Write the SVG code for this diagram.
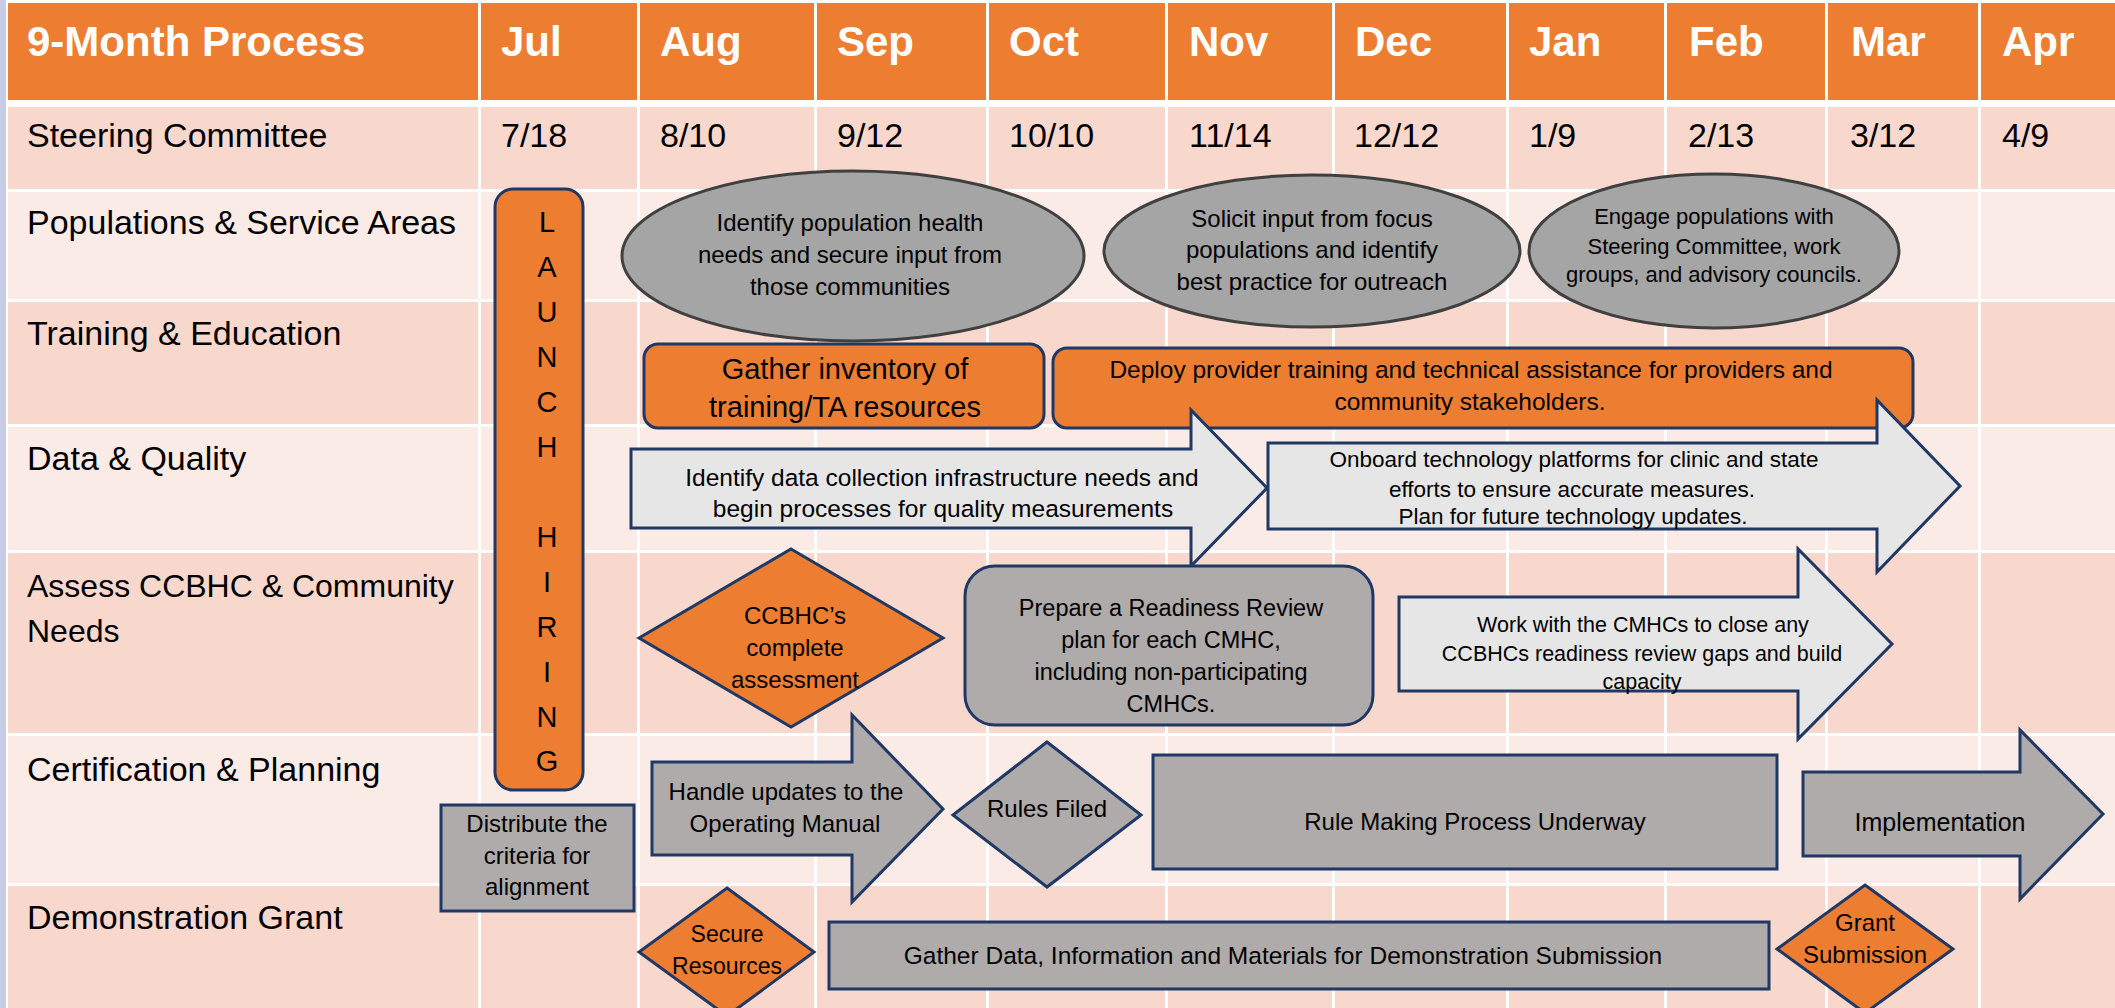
<svg xmlns="http://www.w3.org/2000/svg" width="2115" height="1008" viewBox="0 0 2115 1008">
<style>
  text { font-family: "Liberation Sans", Arial, sans-serif; fill: #000; }
  .hd { font-size: 42px; font-weight: bold; fill: #fff; }
  .lbl { font-size: 34px; }
  .t24 { font-size: 24px; text-anchor: middle; }
  .ltr { font-size: 29px; text-anchor: middle; }
  .rowD { fill: #F8D8CD; }
  .rowL { fill: #FBEBE7; }
  .vl { fill: #fff; }
  .ell { fill: #A5A5A5; stroke: #404040; stroke-width: 3; }
  .org { fill: #ED7D31; stroke: #1F3864; stroke-width: 3; }
  .gry { fill: #AFABAB; stroke: #1F3864; stroke-width: 3; }
  .lgt { fill: #E7E6E6; stroke: #1F3864; stroke-width: 3; }
</style>

<g id="table">
  <rect x="0" y="0" width="2115" height="1008" fill="#fff"/>
  <rect x="0" y="0" width="6" height="1008" fill="#C7CCE4"/>
  <rect x="8" y="3" width="2107" height="97" fill="#ED7D31"/>
  <rect class="rowD" x="8" y="107" width="2107" height="82"/>
  <rect class="rowL" x="8" y="192" width="2107" height="107"/>
  <rect class="rowD" x="8" y="302" width="2107" height="122"/>
  <rect class="rowL" x="8" y="427" width="2107" height="123"/>
  <rect class="rowD" x="8" y="553" width="2107" height="180"/>
  <rect class="rowL" x="8" y="736" width="2107" height="147"/>
  <rect class="rowD" x="8" y="886" width="2107" height="122"/>
  <rect class="vl" x="478" y="0" width="3" height="1008"/>
  <rect class="vl" x="637" y="0" width="3" height="1008"/>
  <rect class="vl" x="814" y="0" width="3" height="1008"/>
  <rect class="vl" x="986" y="0" width="3" height="1008"/>
  <rect class="vl" x="1165" y="0" width="3" height="1008"/>
  <rect class="vl" x="1332" y="0" width="3" height="1008"/>
  <rect class="vl" x="1506" y="0" width="3" height="1008"/>
  <rect class="vl" x="1664" y="0" width="3" height="1008"/>
  <rect class="vl" x="1825" y="0" width="3" height="1008"/>
  <rect class="vl" x="1978" y="0" width="3" height="1008"/>

  <text class="hd" x="27" y="56">9-Month Process</text>
  <text class="hd" x="501" y="56">Jul</text>
  <text class="hd" x="660" y="56">Aug</text>
  <text class="hd" x="837" y="56">Sep</text>
  <text class="hd" x="1009" y="56">Oct</text>
  <text class="hd" x="1189" y="56">Nov</text>
  <text class="hd" x="1355" y="56">Dec</text>
  <text class="hd" x="1529" y="56">Jan</text>
  <text class="hd" x="1689" y="56">Feb</text>
  <text class="hd" x="1851" y="56">Mar</text>
  <text class="hd" x="2002" y="56">Apr</text>

  <text class="lbl" x="27" y="147">Steering Committee</text>
  <text class="lbl" x="501" y="147">7/18</text>
  <text class="lbl" x="660" y="147">8/10</text>
  <text class="lbl" x="837" y="147">9/12</text>
  <text class="lbl" x="1009" y="147">10/10</text>
  <text class="lbl" x="1189" y="147">11/14</text>
  <text class="lbl" x="1354" y="147">12/12</text>
  <text class="lbl" x="1529" y="147">1/9</text>
  <text class="lbl" x="1688" y="147">2/13</text>
  <text class="lbl" x="1850" y="147">3/12</text>
  <text class="lbl" x="2002" y="147">4/9</text>

  <text class="lbl" x="27" y="234">Populations &amp; Service Areas</text>
  <text class="lbl" x="27" y="345">Training &amp; Education</text>
  <text class="lbl" x="27" y="470">Data &amp; Quality</text>
  <text class="lbl" style="font-size:32px" x="27" y="597">Assess CCBHC &amp; Community</text>
  <text class="lbl" style="font-size:32px" x="27" y="642">Needs</text>
  <text class="lbl" x="27" y="781">Certification &amp; Planning</text>
  <text class="lbl" x="27" y="929">Demonstration Grant</text>
</g>

<g id="connectors"/>

<g id="launch-hiring">
  <rect class="org" x="495" y="189" width="88" height="601" rx="18"/>
  <text class="ltr" x="547" y="232">L</text>
  <text class="ltr" x="547" y="277">A</text>
  <text class="ltr" x="547" y="322">U</text>
  <text class="ltr" x="547" y="367">N</text>
  <text class="ltr" x="547" y="412">C</text>
  <text class="ltr" x="547" y="457">H</text>
  <text class="ltr" x="547" y="547">H</text>
  <text class="ltr" x="547" y="592">I</text>
  <text class="ltr" x="547" y="637">R</text>
  <text class="ltr" x="547" y="682">I</text>
  <text class="ltr" x="547" y="727">N</text>
  <text class="ltr" x="547" y="771">G</text>
</g>

<g id="identify-population">
  <ellipse class="ell" cx="853" cy="256" rx="231" ry="85"/>
  <text class="t24" x="850" y="231">Identify population health</text>
  <text class="t24" x="850" y="263">needs and secure input from</text>
  <text class="t24" x="850" y="295">those communities</text>
</g>

<g id="solicit-input">
  <ellipse class="ell" cx="1312" cy="251" rx="208" ry="76"/>
  <text class="t24" x="1312" y="227">Solicit input from focus</text>
  <text class="t24" x="1312" y="258">populations and identify</text>
  <text class="t24" x="1312" y="290">best practice for outreach</text>
</g>

<g id="engage-populations">
  <ellipse class="ell" cx="1714" cy="251" rx="185" ry="77"/>
  <text class="t24" style="font-size:22px" x="1714" y="224">Engage populations with</text>
  <text class="t24" style="font-size:22px" x="1714" y="254">Steering Committee, work</text>
  <text class="t24" style="font-size:22px" x="1714" y="282">groups, and advisory councils.</text>
</g>

<g id="gather-inventory">
  <rect class="org" x="644" y="344" width="400" height="84" rx="14"/>
  <text class="t24" style="font-size:29px" x="845" y="379">Gather inventory of</text>
  <text class="t24" style="font-size:29px" x="845" y="417">training/TA resources</text>
</g>

<g id="deploy-training">
  <rect class="org" x="1053" y="348" width="860" height="80" rx="14"/>
  <text class="t24" style="font-size:24.5px" x="1471" y="378">Deploy provider training and technical assistance for providers and</text>
  <text class="t24" style="font-size:24.5px" x="1470" y="410">community stakeholders.</text>
</g>

<g id="identify-data">
  <polygon class="lgt" points="631,449 1191,449 1191,410 1267,488 1191,566 1191,528 631,528"/>
  <text class="t24" style="font-size:24.5px" x="942" y="486">Identify data collection infrastructure needs and</text>
  <text class="t24" style="font-size:24.5px" x="943" y="517">begin processes for quality measurements</text>
</g>

<g id="onboard-technology">
  <polygon class="lgt" points="1268,443 1877,443 1877,400 1960,486 1877,572 1877,529 1268,529"/>
  <text class="t24" style="font-size:22.5px" x="1574" y="467">Onboard technology platforms for clinic and state</text>
  <text class="t24" style="font-size:22.5px" x="1572" y="497">efforts to ensure accurate measures.</text>
  <text class="t24" style="font-size:22.5px" x="1573" y="524">Plan for future technology updates.</text>
</g>

<g id="ccbhc-assessment">
  <polygon class="org" points="791,549 943,638 791,727 639,638"/>
  <text class="t24" x="795" y="624">CCBHC’s</text>
  <text class="t24" x="795" y="656">complete</text>
  <text class="t24" x="795" y="688">assessment</text>
</g>

<g id="readiness-review">
  <rect class="gry" x="965" y="566" width="408" height="159" rx="30"/>
  <text class="t24" style="font-size:23.5px" x="1171" y="616">Prepare a Readiness Review</text>
  <text class="t24" style="font-size:23.5px" x="1171" y="648">plan for each CMHC,</text>
  <text class="t24" style="font-size:23.5px" x="1171" y="680">including non-participating</text>
  <text class="t24" style="font-size:23.5px" x="1171" y="712">CMHCs.</text>
</g>

<g id="work-with-cmhcs">
  <polygon class="lgt" points="1399,597 1798,597 1798,549 1892,644 1798,739 1798,691 1399,691"/>
  <text class="t24" style="font-size:21.5px" x="1643" y="632">Work with the CMHCs to close any</text>
  <text class="t24" style="font-size:21.5px" x="1642" y="661">CCBHCs readiness review gaps and build</text>
  <text class="t24" style="font-size:21.5px" x="1642" y="689">capacity</text>
</g>

<g id="distribute-criteria">
  <rect class="gry" x="441" y="805" width="193" height="106"/>
  <text class="t24" x="537" y="832">Distribute the</text>
  <text class="t24" x="537" y="864">criteria for</text>
  <text class="t24" x="537" y="895">alignment</text>
</g>

<g id="handle-updates">
  <polygon class="gry" points="652,762 852,762 852,715 943,809 852,902 852,855 652,855"/>
  <text class="t24" x="786" y="800">Handle updates to the</text>
  <text class="t24" x="785" y="832">Operating Manual</text>
</g>

<g id="rules-filed">
  <polygon class="gry" points="1047,742 1141,815 1047,887 953,815"/>
  <text class="t24" x="1047" y="817">Rules Filed</text>
</g>

<g id="rule-making">
  <rect class="gry" x="1153" y="755" width="624" height="114"/>
  <text class="t24" x="1475" y="830">Rule Making Process Underway</text>
</g>

<g id="implementation">
  <polygon class="gry" points="1803,772 2020,772 2020,730 2103,814 2020,899 2020,856 1803,856"/>
  <text class="t24" style="font-size:25px" x="1940" y="831">Implementation</text>
</g>

<g id="secure-resources">
  <polygon class="org" points="727,888 814,952 727,1016 639,952"/>
  <text class="t24" style="font-size:23px" x="727" y="942">Secure</text>
  <text class="t24" style="font-size:23px" x="727" y="974">Resources</text>
</g>

<g id="gather-data">
  <rect class="gry" x="829" y="922" width="940" height="67"/>
  <text class="t24" style="font-size:24.5px" x="1283" y="964">Gather Data, Information and Materials for Demonstration Submission</text>
</g>

<g id="grant-submission">
  <polygon class="org" points="1865,885 1953,949 1865,1013 1777,949"/>
  <text class="t24" x="1865" y="931">Grant</text>
  <text class="t24" x="1865" y="963">Submission</text>
</g>
</svg>
